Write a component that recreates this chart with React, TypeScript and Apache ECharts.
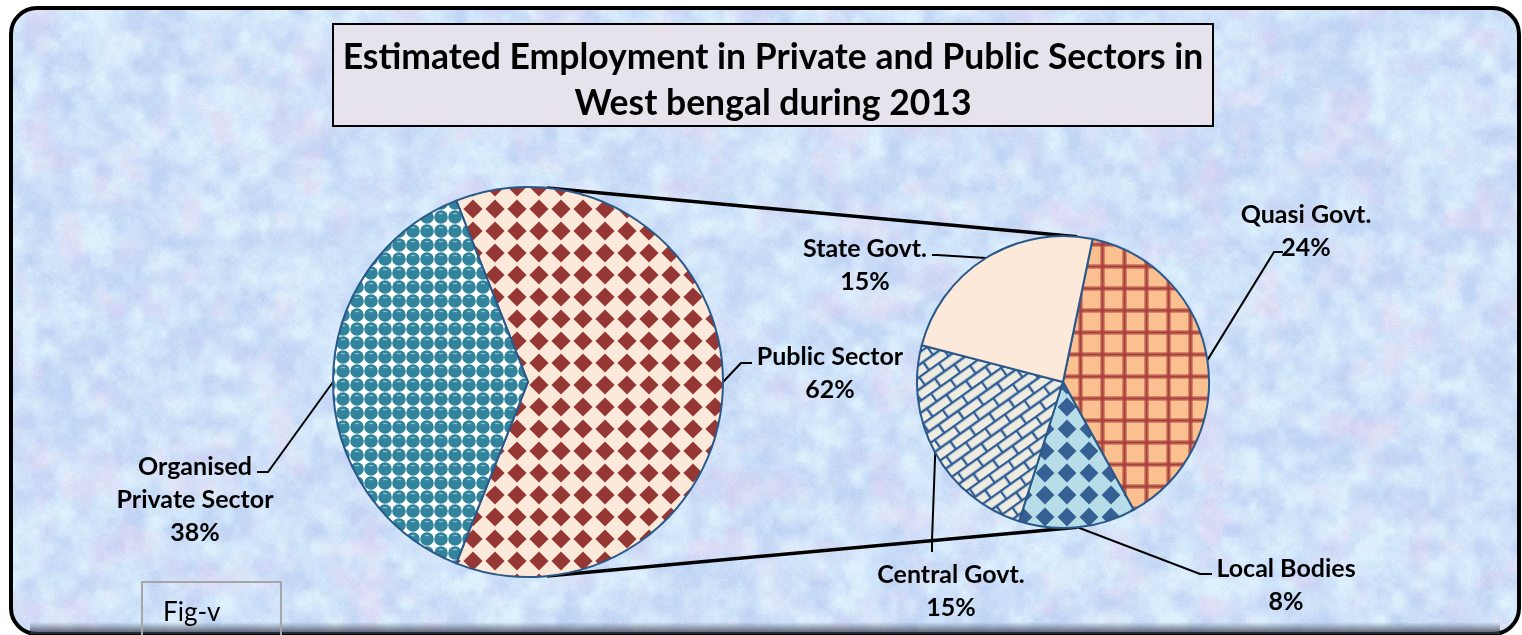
import React, { useEffect, useRef } from 'react';
import * as echarts from 'echarts';

const W = 1522;
const H = 635;

// ---------- data ----------
const titleText = 'Estimated Employment in Private and Public Sectors in\nWest bengal during 2013';
const figLabel = 'Fig-v';

const mainNames = ['Public Sector', 'Organised\nPrivate Sector'];
const mainValues = [62, 38];

const subNames = ['Quasi Govt.', 'Local Bodies', 'Central Govt.', 'State Govt.'];
const subValues = [24, 8, 15, 15];

// ---------- layout ----------
const MAIN = { cx: 528, cy: 382, r: 195, start: 111.6 };
const SUB = { cx: 1063, cy: 382, r: 146, start: 78.3 };
const CONNECT_DEG = 5.6;

const mainLabelLayout = [
  { elbow: [741, 363], end: [752, 363], at: [830, 371] },
  { elbow: [268, 472], end: [257, 472], at: [195, 498] },
];
const subLabelLayout = [
  { elbow: [1274, 252], end: [1283, 252], at: [1306, 229] },
  { elbow: [1200, 574], end: [1212, 574], at: [1286, 583] },
  { elbow: [932, 540], end: [932, 552], at: [951, 589] },
  { elbow: [937, 255], end: [932, 255], at: [865, 263] },
];

const FONT = 'Lato, "Open Sans", sans-serif';

// ---------- helpers ----------
function hash(x: number, y: number, s: number) {
  let h = (Math.imul(x, 374761393) + Math.imul(y, 668265263) + Math.imul(s, 982451653)) | 0;
  h = Math.imul(h ^ (h >>> 13), 1274126177);
  h ^= h >>> 16;
  return (h >>> 0) / 4294967296;
}
function vnoise(x: number, y: number, s: number) {
  const xi = Math.floor(x), yi = Math.floor(y);
  const xf = x - xi, yf = y - yi;
  const u = xf * xf * (3 - 2 * xf), v = yf * yf * (3 - 2 * yf);
  const a = hash(xi, yi, s), b = hash(xi + 1, yi, s), c = hash(xi, yi + 1, s), d = hash(xi + 1, yi + 1, s);
  return a + (b - a) * u + (c - a) * v + (a - b - c + d) * u * v;
}
function fbm(x: number, y: number, s: number) {
  let t = 0, amp = 0.5, f = 1;
  for (let o = 0; o < 4; o++) {
    t += amp * vnoise(x * f, y * f, s + o * 13);
    f *= 2;
    amp *= 0.5;
  }
  return t / 0.9375;
}
const clamp = (v: number, a: number, b: number) => Math.max(a, Math.min(b, v));

function makeBackground(w: number, h: number) {
  const c = document.createElement('canvas');
  c.width = w; c.height = h;
  const ctx = c.getContext('2d')!;
  const img = ctx.createImageData(w, h);
  const d = img.data;
  for (let y = 0; y < h; y++) {
    for (let x = 0; x < w; x++) {
      const n1 = fbm(x / 18, y / 18, 1);
      const n2 = fbm(x / 30 + 50, y / 30, 7);
      const g = hash(x, y, 3) - 0.5;
      const t = clamp((n1 - 0.22) / 0.56, 0, 1);
      let r = 192 + (220 - 192) * t;
      let gg = 212 + (240 - 212) * t;
      let b = 245 + (253 - 245) * t;
      const p = clamp((n2 - 0.5) / 0.3, 0, 1) * 0.4;
      r = r + (236 - r) * p;
      gg = gg + (210 - gg) * p;
      b = b + (240 - b) * p;
      r += g * 8; gg += g * 8; b += g * 5;
      const i = (y * w + x) * 4;
      d[i] = clamp(r, 0, 255);
      d[i + 1] = clamp(gg, 0, 255);
      d[i + 2] = clamp(b, 0, 255);
      d[i + 3] = 255;
    }
  }
  ctx.putImageData(img, 0, 0);
  return c.toDataURL('image/jpeg', 0.92);
}

function tile(w: number, h: number, draw: (ctx: CanvasRenderingContext2D) => void, extra: any = {}) {
  const c = document.createElement('canvas');
  c.width = w; c.height = h;
  const ctx = c.getContext('2d')!;
  draw(ctx);
  return { image: c.toDataURL(), repeat: 'repeat', imageWidth: w, imageHeight: h, ...extra };
}

function diamondTile(bg: string, fg: string, size: number, half: number) {
  return tile(size, size, (ctx) => {
    ctx.fillStyle = bg;
    ctx.fillRect(0, 0, size, size);
    const c = size / 2;
    ctx.filter = 'blur(0.7px)';
    ctx.fillStyle = fg;
    ctx.beginPath();
    ctx.moveTo(c, c - half);
    ctx.lineTo(c + half, c);
    ctx.lineTo(c, c + half);
    ctx.lineTo(c - half, c);
    ctx.closePath();
    ctx.fill();
  });
}

function makeFills() {
  const publicFill = diamondTile('#fde9d9', '#953734', 22, 9.6);
  const localFill = diamondTile('#b7dee8', '#365f93', 22, 9.4);
  const privateFill = tile(14, 14, (ctx) => {
    ctx.fillStyle = '#ffffff';
    ctx.fillRect(0, 0, 14, 14);
    ctx.fillStyle = '#31849b';
    ctx.beginPath();
    ctx.arc(7, 7, 6.8, 0, Math.PI * 2);
    ctx.fill();
    ctx.fillStyle = '#8cc2d2';
    ctx.fillRect(5, 3, 4, 1.2);
  });
  const quasiFill = tile(22, 22, (ctx) => {
    ctx.fillStyle = '#fac090';
    ctx.fillRect(0, 0, 22, 22);
    ctx.fillStyle = 'rgba(185,80,72,0.55)';
    ctx.fillRect(0, 0, 5, 22);
    ctx.fillRect(0, 0, 22, 5);
    ctx.fillStyle = '#a43f3c';
    ctx.fillRect(1.5, 0, 2, 22);
    ctx.fillRect(0, 1.5, 22, 2);
  });
  const centralFill = tile(24, 20, (ctx) => {
    ctx.fillStyle = '#eeece1';
    ctx.fillRect(0, 0, 24, 20);
    ctx.filter = 'blur(0.4px)';
    ctx.strokeStyle = '#2e5c96';
    ctx.lineWidth = 2.4;
    ctx.beginPath();
    ctx.moveTo(0, 1); ctx.lineTo(24, 1);
    ctx.moveTo(0, 11); ctx.lineTo(24, 11);
    ctx.moveTo(1, 1); ctx.lineTo(1, 11);
    ctx.moveTo(13, 11); ctx.lineTo(13, 21);
    ctx.stroke();
  }, { rotation: -0.62 });
  const stateFill = '#fde9d9';
  return {
    main: [publicFill, privateFill],
    sub: [quasiFill, localFill, centralFill, stateFill],
  };
}

function edgePoint(pie: typeof MAIN, values: number[], i: number) {
  const sum = values.reduce((a, b) => a + b, 0);
  let before = 0;
  for (let k = 0; k < i; k++) before += values[k];
  const ang = ((pie.start - ((before + values[i] / 2) / sum) * 360) * Math.PI) / 180;
  return [pie.cx + pie.r * Math.cos(ang), pie.cy - pie.r * Math.sin(ang)];
}

function pieLabelLayout(pie: typeof MAIN, values: number[], layout: any[]) {
  return (params: any) => {
    const l = layout[params.dataIndex];
    return {
      x: l.at[0],
      y: l.at[1],
      align: 'center',
      verticalAlign: 'middle',
      labelLinePoints: [edgePoint(pie, values, params.dataIndex), l.elbow, l.end],
    };
  };
}

function connectPoint(pie: typeof MAIN, top: boolean) {
  const a = (CONNECT_DEG * Math.PI) / 180;
  return [pie.cx + pie.r * Math.sin(a), pie.cy + (top ? -1 : 1) * pie.r * Math.cos(a)];
}

export default function App() {
  const ref = useRef<HTMLDivElement>(null);

  useEffect(() => {
    if (!ref.current) return;
    const chart = echarts.init(ref.current, undefined, { renderer: 'svg', width: W, height: H });
    const bg = makeBackground(W, H);
    const fills = makeFills();

    const labelStyle = {
      show: true,
      position: 'outside',
      formatter: '{b}\n{c}%',
      color: '#000',
      fontFamily: FONT,
      fontWeight: 'bold',
      fontSize: 25,
      lineHeight: 33,
      align: 'center',
    };
    const labelLine = { show: true, length: 10, length2: 10, lineStyle: { color: '#000', width: 2 } };
    const itemStyle = { borderColor: '#29588a', borderWidth: 2 };

    const mt = connectPoint(MAIN, true), mb = connectPoint(MAIN, false);
    const st = connectPoint(SUB, true), sb = connectPoint(SUB, false);

    chart.setOption({
      animation: false,
      graphic: [
        {
          type: 'rect', z: 0, silent: true,
          shape: { x: 11, y: 8, width: 1508, height: 626, r: 26 },
          style: {
            fill: { image: bg, repeat: 'no-repeat', imageWidth: W, imageHeight: H },
            stroke: '#000', lineWidth: 4,
          },
        },
        {
          type: 'rect', z: 0, silent: true,
          shape: { x: 30, y: 622, width: 1470, height: 12 },
          style: {
            fill: new echarts.graphic.LinearGradient(0, 0, 0, 1, [
              { offset: 0, color: 'rgba(60,70,90,0)' },
              { offset: 1, color: 'rgba(50,55,70,0.85)' },
            ]),
          },
        },
        {
          type: 'line', z: 1, silent: true,
          shape: { x1: mt[0], y1: mt[1], x2: st[0], y2: st[1] },
          style: { stroke: '#000', lineWidth: 3.5 },
        },
        {
          type: 'line', z: 1, silent: true,
          shape: { x1: mb[0], y1: mb[1], x2: sb[0], y2: sb[1] },
          style: { stroke: '#000', lineWidth: 3.5 },
        },
        {
          type: 'rect', z: 10, silent: true,
          shape: { x: 333, y: 24, width: 880, height: 102 },
          style: { fill: '#e7e3ec', stroke: '#000', lineWidth: 2 },
        },
        {
          type: 'text', z: 11, silent: true,
          style: {
            text: titleText, x: 773, y: 78, align: 'center', verticalAlign: 'middle',
            fontFamily: FONT, fontWeight: 'bold', fontSize: 35.5, lineHeight: 46, fill: '#000',
          },
        },
        {
          type: 'rect', z: 10, silent: true,
          shape: { x: 142, y: 582, width: 139, height: 60 },
          style: { fill: 'none', stroke: '#a6a6a6', lineWidth: 2 },
        },
        {
          type: 'text', z: 11, silent: true,
          style: {
            text: figLabel, x: 163, y: 611, align: 'left', verticalAlign: 'middle',
            fontFamily: FONT, fontSize: 26, fill: '#000',
          },
        },
      ],
      series: [
        {
          type: 'pie',
          z: 3,
          center: [MAIN.cx, MAIN.cy],
          radius: MAIN.r,
          startAngle: MAIN.start,
          clockwise: true,
          avoidLabelOverlap: false,
          silent: true,
          emphasis: { disabled: true },
          itemStyle,
          label: labelStyle,
          labelLine,
          labelLayout: pieLabelLayout(MAIN, mainValues, mainLabelLayout),
          data: mainNames.map((n, i) => ({ name: n, value: mainValues[i], itemStyle: { color: fills.main[i] } })),
        },
        {
          type: 'pie',
          z: 3,
          center: [SUB.cx, SUB.cy],
          radius: SUB.r,
          startAngle: SUB.start,
          clockwise: true,
          avoidLabelOverlap: false,
          silent: true,
          emphasis: { disabled: true },
          itemStyle,
          label: labelStyle,
          labelLine,
          labelLayout: pieLabelLayout(SUB, subValues, subLabelLayout),
          data: subNames.map((n, i) => ({ name: n, value: subValues[i], itemStyle: { color: fills.sub[i] } })),
        },
      ],
    });
    return () => chart.dispose();
  }, []);

  return <div ref={ref} style={{ position: 'fixed', left: 0, top: 0, width: W, height: H }} />;
}
